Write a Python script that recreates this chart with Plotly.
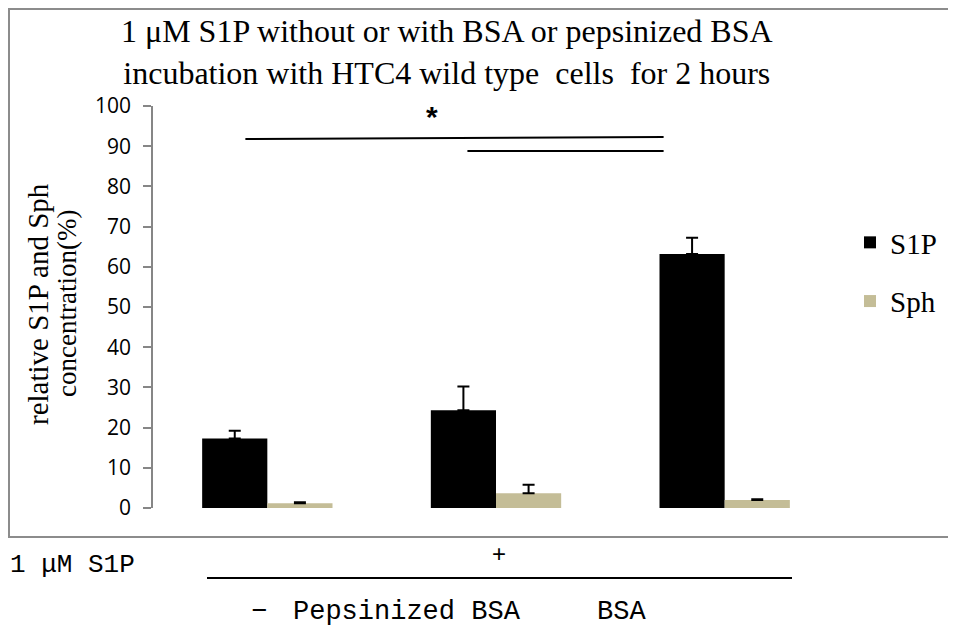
import plotly.graph_objects as go

# ---- data ----
categories = ["-", "Pepsinized BSA", "BSA"]
s1p_values = [17.3, 24.3, 63.2]
s1p_errors = [1.9, 5.9, 4.0]
sph_values = [1.2, 3.7, 2.0]
sph_errors = [0.2, 2.1, 0.2]
series_names = ["S1P", "Sph"]
y_ticks = [0, 10, 20, 30, 40, 50, 60, 70, 80, 90, 100]

# ---- geometry: page pixels; the html body adds an 8px margin ----
OFF = 8
W, H = 956 - OFF, 630 - OFF
PL, PR, PT, PB = 153, 839, 106, 508          # plot area in page pixels
L, T = PL - OFF, PT - OFF
R, B = W - (PR - OFF), H - (PB - OFF)
PW, PH = PR - PL, PB - PT


def px(x):
    return (x - PL) / PW


def py(y):
    return (PB - y) / PH


fig = go.Figure()
fig.add_trace(go.Bar(
    x=categories, y=s1p_values, name=series_names[0],
    marker=dict(color="#000000", line=dict(width=0)),
    error_y=dict(type="data", array=s1p_errors, symmetric=False,
                 arrayminus=[0] * len(s1p_errors),
                 color="#000000", thickness=2, width=6),
    legendgroup="a",
))
fig.add_trace(go.Bar(
    x=categories, y=sph_values, name=series_names[1],
    marker=dict(color="#C4BD97", line=dict(width=0)),
    error_y=dict(type="data", array=sph_errors, symmetric=False,
                 arrayminus=[0] * len(sph_errors),
                 color="#000000", thickness=2, width=6),
    legendgroup="b",
))

serif = "Liberation Serif"
mono = "Liberation Mono"

fig.update_layout(
    width=W, height=H,
    margin=dict(l=L, r=R, t=T, b=B, pad=0),
    paper_bgcolor="white", plot_bgcolor="white",
    barmode="group", bargap=0.43, bargroupgap=0,
    showlegend=True,
    legend=dict(
        x=px(850), y=py(272), xanchor="left", yanchor="middle",
        font=dict(family=serif, size=29, color="black"),
        traceorder="grouped", tracegroupgap=18,
        bgcolor="rgba(0,0,0,0)",
    ),
    xaxis=dict(
        type="category", showticklabels=False, showline=False,
        ticks="", showgrid=False, zeroline=False,
    ),
    yaxis=dict(
        range=[0, 100], tickvals=y_ticks, showgrid=False, zeroline=False,
        showline=True, linecolor="#868686", linewidth=1.5,
        ticks="outside", ticklen=8, tickcolor="#868686", tickwidth=1.5,
        tickfont=dict(family="Open Sans", size=21, color="black"),
        ticklabelstandoff=8,
    ),
)

shapes = []
# outer frame
shapes.append(dict(type="rect", xref="paper", yref="paper",
                   x0=px(9), x1=px(962), y0=py(537), y1=py(9),
                   line=dict(color="#8c8c8c", width=2), layer="below"))
# significance bars
shapes.append(dict(type="line", xref="x", yref="y",
                   x0=-0.096, x1=1.733, y0=91.8, y1=92.3,
                   line=dict(color="black", width=2)))
shapes.append(dict(type="line", xref="x", yref="y",
                   x0=0.875, x1=1.733, y0=88.8, y1=88.8,
                   line=dict(color="black", width=2)))
# condition bar below the frame
shapes.append(dict(type="line", xref="paper", yref="paper",
                   x0=px(207), x1=px(792), y0=py(578), y1=py(578),
                   line=dict(color="black", width=2)))
fig.update_layout(shapes=shapes)

annotations = [
    dict(text="1 μM S1P without or with BSA or pepsinized BSA<br>"
              "incubation with HTC4 wild type\u00a0 cells\u00a0 for 2 hours",
         xref="paper", yref="paper", x=px(447), y=py(52),
         xanchor="center", yanchor="middle", showarrow=False,
         font=dict(family=serif, size=32, color="black")),
    dict(text="relative S1P and Sph",
         xref="paper", yref="paper", x=px(38), y=py(304),
         xanchor="center", yanchor="middle", textangle=-90, showarrow=False,
         font=dict(family=serif, size=29, color="black")),
    dict(text="concentration(%)",
         xref="paper", yref="paper", x=px(67), y=py(303),
         xanchor="center", yanchor="middle", textangle=-90, showarrow=False,
         font=dict(family=serif, size=27, color="black")),
    dict(text="<b>*</b>", xref="x", yref="y", x=0.718, y=97.5,
         xanchor="center", yanchor="middle", showarrow=False,
         font=dict(family="Liberation Sans", size=30, color="black")),
    dict(text="1 μM S1P", xref="paper", yref="paper", x=px(8), y=py(565),
         xanchor="left", yanchor="middle", showarrow=False,
         font=dict(family=mono, size=26, color="black")),
    dict(text="+", xref="paper", yref="paper", x=px(499), y=py(553),
         xanchor="center", yanchor="middle", showarrow=False,
         font=dict(family="Liberation Sans", size=24, color="black")),
    dict(text="−", xref="paper", yref="paper", x=px(259), y=py(612),
         xanchor="center", yanchor="middle", showarrow=False,
         font=dict(family=mono, size=27, color="black")),
    dict(text="Pepsinized BSA", xref="paper", yref="paper", x=px(291), y=py(612),
         xanchor="left", yanchor="middle", showarrow=False,
         font=dict(family=mono, size=27, color="black")),
    dict(text="BSA", xref="paper", yref="paper", x=px(595), y=py(612),
         xanchor="left", yanchor="middle", showarrow=False,
         font=dict(family=mono, size=27, color="black")),
]
fig.update_layout(annotations=annotations)

fig.write_html("out.html")
